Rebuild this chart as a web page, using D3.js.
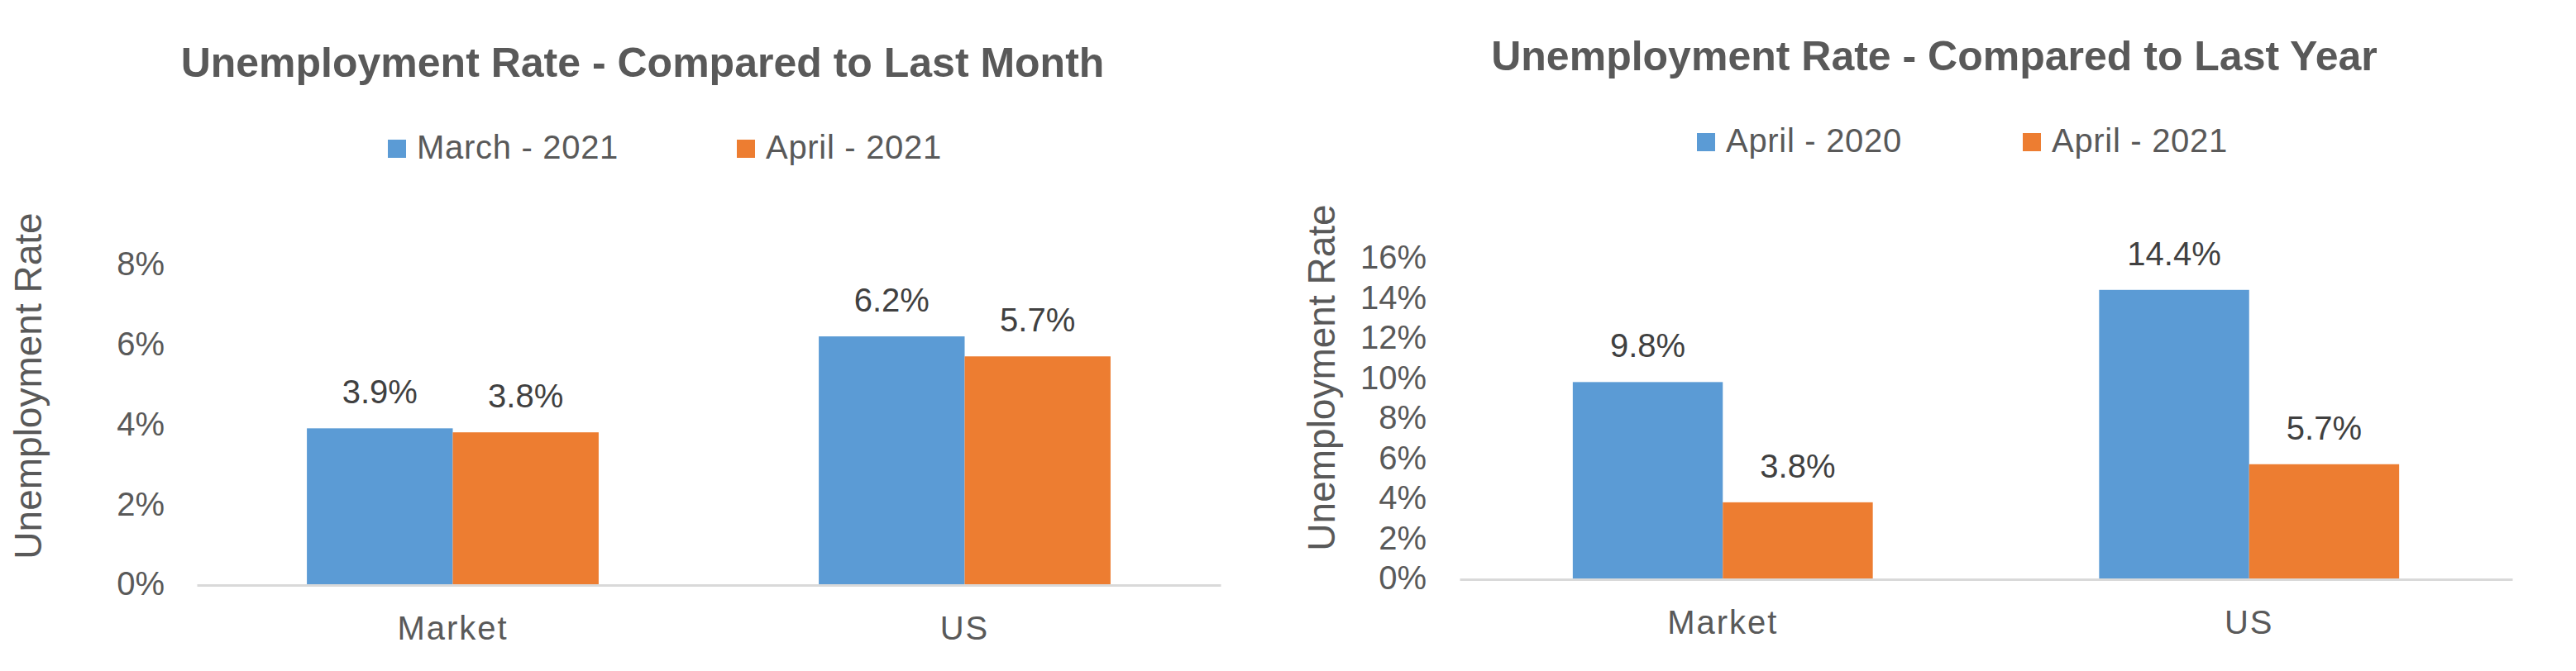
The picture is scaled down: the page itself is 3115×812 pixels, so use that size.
<!DOCTYPE html>
<html>
<head>
<meta charset="utf-8">
<script src="https://cdn.jsdelivr.net/npm/d3@7"></script>
<style>
  body { margin: 0; background: #fff; }
  svg { display: block; }
  text { font-family: "Century Gothic", "Liberation Sans", Arial, sans-serif; fill: #595959; }
</style>
</head>
<body>
<div id="chart"></div>
<script>
// ---- data ----
var categories = ["Market", "US"];
var monthSeries = ["March - 2021", "April - 2021"];
var monthValues = [[3.9, 3.8], [6.2, 5.7]];   // per category: [series0, series1]
var monthTicks = [0, 2, 4, 6, 8];
var yearSeries = ["April - 2020", "April - 2021"];
var yearValues = [[9.8, 3.8], [14.4, 5.7]];
var yearTicks = [0, 2, 4, 6, 8, 10, 12, 14, 16];
var seriesColors = ["#5B9BD5", "#ED7D31"];

var W = 3115, H = 812;

var svg = d3.select("#chart").append("svg")
    .attr("width", W)
    .attr("height", H);

function drawChart(opt) {
    var g = svg.append("g");

    var x0 = d3.scaleBand()
        .domain(categories)
        .range([opt.left, opt.right])
        .paddingInner(0.43)
        .paddingOuter(0.215);

    var x1 = d3.scaleBand()
        .domain([0, 1])
        .range([0, x0.bandwidth()]);

    var y = d3.scaleLinear()
        .domain([0, d3.max(opt.ticks)])
        .range([opt.base, opt.top]);

    // title
    g.append("text")
        .attr("x", opt.titleX)
        .attr("y", opt.titleY)
        .attr("text-anchor", "middle")
        .attr("font-size", 50)
        .attr("font-weight", "bold")
        .text(opt.title);

    // legend
    var leg = g.selectAll(".legend")
        .data(opt.series)
        .enter().append("g")
        .attr("class", "legend")
        .attr("transform", function(d, i) { return "translate(" + (opt.legendX + i * opt.legendStep) + "," + opt.legendY + ")"; });
    leg.append("rect")
        .attr("x", 0)
        .attr("y", -23)
        .attr("width", 22)
        .attr("height", 22)
        .attr("fill", function(d, i) { return seriesColors[i]; });
    leg.append("text")
        .attr("x", 35)
        .attr("y", 0)
        .attr("font-size", 40)
        .attr("letter-spacing", 0.7)
        .text(function(d) { return d; });

    // y axis
    var yAxis = g.append("g")
        .attr("transform", "translate(" + opt.left + ",0)")
        .call(d3.axisLeft(y)
            .tickValues(opt.ticks)
            .tickSize(0)
            .tickPadding(opt.left - opt.tickRight)
            .tickFormat(function(d) { return d + "%"; }));
    yAxis.select(".domain").remove();
    yAxis.selectAll("text")
        .attr("font-size", 40)
        .attr("font-family", null)
        .attr("fill", "#595959");

    // y axis title
    g.append("text")
        .attr("transform", "translate(" + opt.yTitleX + "," + opt.yTitleY + ") rotate(-90)")
        .attr("text-anchor", "middle")
        .attr("dominant-baseline", "central")
        .attr("font-size", 46)
        .text("Unemployment Rate");

    // bars
    var groups = g.selectAll(".cat")
        .data(opt.values)
        .enter().append("g")
        .attr("class", "cat")
        .attr("transform", function(d, i) { return "translate(" + x0(categories[i]) + ",0)"; });

    groups.selectAll("rect")
        .data(function(d) { return d; })
        .enter().append("rect")
        .attr("x", function(d, i) { return x1(i); })
        .attr("y", function(d) { return y(d); })
        .attr("width", x1.bandwidth())
        .attr("height", function(d) { return y(0) - y(d); })
        .attr("fill", function(d, i) { return seriesColors[i]; });

    groups.selectAll(".lbl")
        .data(function(d) { return d; })
        .enter().append("text")
        .attr("class", "lbl")
        .attr("x", function(d, i) { return x1(i) + x1.bandwidth() / 2; })
        .attr("y", function(d) { return y(d) - 30; })
        .attr("text-anchor", "middle")
        .attr("font-size", 40)
        .style("fill", "#404040")
        .text(function(d) { return d.toFixed(1) + "%"; });

    // x axis
    var xAxis = g.append("g")
        .attr("transform", "translate(0," + (y(0) + 1) + ")")
        .call(d3.axisBottom(x0).tickSize(0).tickSizeOuter(0));
    xAxis.select(".domain")
        .attr("stroke", "#D9D9D9")
        .attr("stroke-width", 3);
    xAxis.selectAll("text")
        .attr("font-size", 40)
        .attr("font-family", null)
        .attr("letter-spacing", 2)
        .attr("fill", "#595959")
        .attr("dy", 0)
        .attr("y", opt.xLabelY - y(0) - 1);
}

drawChart({
    title: "Unemployment Rate - Compared to Last Month",
    titleX: 777, titleY: 93,
    series: monthSeries, values: monthValues, ticks: monthTicks,
    legendX: 469, legendStep: 422, legendY: 192,
    left: 238, right: 1476, top: 320, base: 707,
    tickRight: 199,
    yTitleX: 34, yTitleY: 467,
    xLabelY: 774
});

drawChart({
    title: "Unemployment Rate - Compared to Last Year",
    titleX: 2339, titleY: 85,
    series: yearSeries, values: yearValues, ticks: yearTicks,
    legendX: 2052, legendStep: 394, legendY: 184,
    left: 1765, right: 3038, top: 312, base: 700,
    tickRight: 1725,
    yTitleX: 1598, yTitleY: 457,
    xLabelY: 767
});
</script>
</body>
</html>
